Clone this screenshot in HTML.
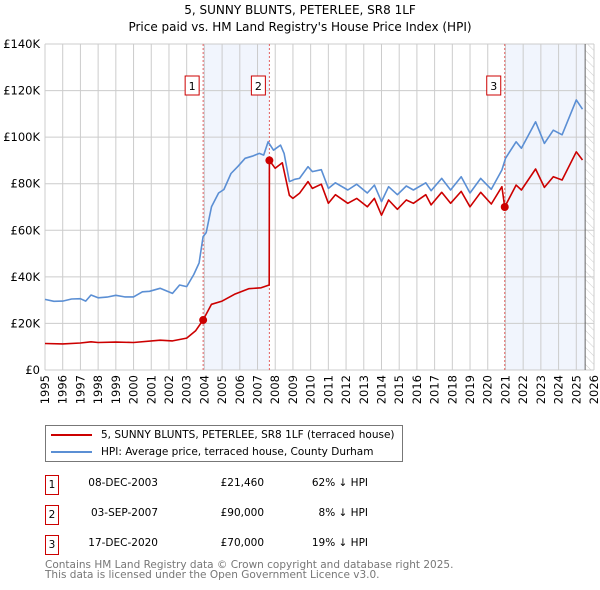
<!DOCTYPE html>
<html><head><meta charset="utf-8"><style>
body{margin:0;background:#fff;font-family:"DejaVu Sans","Liberation Sans",sans-serif;}
#wrap{position:relative;width:600px;height:590px;overflow:hidden;}
</style></head><body><div id="wrap">
<svg id="chart" width="600" height="590" xmlns="http://www.w3.org/2000/svg" style="position:absolute;left:0;top:0;font-family:'DejaVu Sans','Liberation Sans',sans-serif">
<defs><pattern id="hatch" width="6" height="6" patternUnits="userSpaceOnUse" patternTransform="rotate(-45)"><line x1="0" y1="0" x2="0" y2="6" stroke="#ccc" stroke-width="1"/></pattern></defs>
<text x="300" y="14" text-anchor="middle" font-size="12" fill="#000">5, SUNNY BLUNTS, PETERLEE, SR8 1LF</text>
<text x="300" y="31" text-anchor="middle" font-size="12" fill="#000">Price paid vs. HM Land Registry's House Price Index (HPI)</text>
<g id="g"></g>
</svg>
<div style="position:absolute;left:45px;top:425px;width:356px;height:35px;border:1px solid #777;font-size:10.5px;">
 <div style="position:absolute;left:5px;top:2px;white-space:nowrap;line-height:14px"><span style="display:inline-block;width:41px;height:2px;background:#cc0000;vertical-align:middle;margin-right:9px"></span>5, SUNNY BLUNTS, PETERLEE, SR8 1LF (terraced house)</div>
 <div style="position:absolute;left:5px;top:19px;white-space:nowrap;line-height:14px"><span style="display:inline-block;width:41px;height:2px;background:#5b8fd4;vertical-align:middle;margin-right:9px"></span>HPI: Average price, terraced house, County Durham</div>
</div>
<div id="tbl" style="font-size:10.5px"></div>
<div style="position:absolute;left:45px;top:560px;font-size:10.5px;color:#777;line-height:10px">Contains HM Land Registry data © Crown copyright and database right 2025.<br>This data is licensed under the Open Government Licence v3.0.</div>
</div>
<script>
const hpiYears=[1995,1995.5,1996,1996.5,1997,1997.3,1997.6,1998,1998.5,1999,1999.5,2000,2000.5,2000.9,2001.5,2002.2,2002.6,2003,2003.4,2003.7,2003.93,2004.1,2004.4,2004.8,2005.1,2005.5,2005.9,2006.3,2006.7,2007.1,2007.35,2007.6,2007.9,2008.3,2008.5,2008.8,2009.1,2009.37,2009.85,2010.1,2010.6,2011.0,2011.4,2012.1,2012.6,2013.2,2013.6,2014.0,2014.4,2014.9,2015.4,2015.8,2016.5,2016.8,2017.4,2017.9,2018.5,2019.0,2019.6,2020.2,2020.8,2021.0,2021.6,2021.9,2022.7,2023.2,2023.7,2024.2,2025.0,2025.35];
const hpiValues=[30.3,29.5,29.6,30.5,30.6,29.6,32.2,31.0,31.3,32.1,31.4,31.4,33.6,33.8,35.1,32.9,36.5,35.8,41,46,57.3,59,70.1,76,77.5,84.4,87.5,90.9,91.8,93,92.3,98,94.4,96.6,93,80.9,81.9,82.3,87.3,85.2,86,78,80.4,77.3,79.8,76,79.4,72.3,78.7,75.3,79,77.3,80.4,77,82.3,77.3,83,76,82.3,77.6,85.9,90.9,98,95.2,106.6,97.3,103,101,116,112];
const ppYears=[1995,1996,1997,1997.6,1998,1999,2000,2001.5,2002.2,2003,2003.5,2003.93,2004.4,2005,2005.7,2006.5,2007.2,2007.66,2007.67,2008,2008.4,2008.8,2009.0,2009.37,2009.85,2010.1,2010.6,2011.0,2011.4,2012.1,2012.6,2013.2,2013.6,2014.0,2014.4,2014.9,2015.4,2015.8,2016.5,2016.8,2017.4,2017.9,2018.5,2019.0,2019.6,2020.2,2020.8,2020.96,2021.6,2021.9,2022.7,2023.2,2023.7,2024.2,2025.0,2025.35];
const ppValues=[11.4,11.2,11.6,12.1,11.8,12,11.8,12.8,12.5,13.7,16.8,21.46,28.2,29.6,32.5,34.9,35.3,36.5,90,86.6,89,75,73.7,75.9,80.9,78,79.8,71.6,75.3,71.6,73.7,70.1,73.7,66.5,73,69,73,71.6,75.3,70.9,76.3,71.6,76.7,70.1,76.3,71.3,78.7,70,79.4,77.3,86.3,78.4,83,81.6,93.7,90.2];
const saleYears=[2003.93,2007.67,2020.96];
const saleValues=[21.46,90,70];
const saleLabels=["1","2","3"];
const saleDates=["08-DEC-2003","03-SEP-2007","17-DEC-2020"];
const salePrices=["£21,460","£90,000","£70,000"];
const saleHpi=["62% ↓ HPI","8% ↓ HPI","19% ↓ HPI"];
const yTicks=[0,20,40,60,80,100,120,140];
const yTickLabels=["£0","£20K","£40K","£60K","£80K","£100K","£120K","£140K"];
const xTicks=[1995,1996,1997,1998,1999,2000,2001,2002,2003,2004,2005,2006,2007,2008,2009,2010,2011,2012,2013,2014,2015,2016,2017,2018,2019,2020,2021,2022,2023,2024,2025,2026];
const dataEnd=2025.5;

const X0=45,X1=594,Y0=370,Y1=44;
const sx=y=>X0+(y-1995)/(2026-1995)*(X1-X0);
const sy=v=>Y0-v/140*(Y0-Y1);
const NS="http://www.w3.org/2000/svg";
const g=document.getElementById('g');
function mk(t,a,p){const e=document.createElementNS(NS,t);for(const k in a)e.setAttribute(k,a[k]);(p||g).appendChild(e);return e;}
let r=mk('rect',{x:sx(saleYears[0]),y:Y1,width:sx(saleYears[1])-sx(saleYears[0]),height:Y0-Y1,fill:'#eef3fc',opacity:0.8});

r=mk('rect',{x:sx(saleYears[2]),y:Y1,width:sx(dataEnd)-sx(saleYears[2]),height:Y0-Y1,fill:'#eef3fc',opacity:0.8});

r=mk('rect',{x:sx(dataEnd),y:Y1,width:X1-sx(dataEnd),height:Y0-Y1,fill:'url(#hatch)'});

yTicks.forEach((v,i)=>{
 const l=mk('line',{x1:X0,x2:X1,y1:sy(v),y2:sy(v),stroke:'#ccc','stroke-width':1});
 
 const t=mk('text',{x:X0-5,y:sy(v)+4,'text-anchor':'end','font-size':11.5,fill:'#000'});t.textContent=yTickLabels[i];
 
});
xTicks.forEach(y=>{
 const l=mk('line',{x1:sx(y),x2:sx(y),y1:Y1,y2:Y0,stroke:'#ccc','stroke-width':1});
 
 const t=mk('text',{x:0,y:0,'text-anchor':'end','font-size':11.5,fill:'#000',transform:`translate(${sx(y)+4},${Y0+5}) rotate(-90)`});t.textContent=y;
 
});
let dl=mk('line',{x1:sx(dataEnd),x2:sx(dataEnd),y1:Y1,y2:Y0,stroke:'#666','stroke-width':1});

saleYears.forEach((y,i)=>{
 const l=mk('line',{x1:sx(y),x2:sx(y),y1:Y1,y2:Y0,stroke:'#e06060','stroke-width':1,'stroke-dasharray':'2,2'});
 
 const b=mk('rect',{x:sx(y)-18,y:76,width:14,height:19,fill:'#fff',stroke:'#cc0000','stroke-width':1});
 
 const t=mk('text',{x:sx(y)-11,y:90,'text-anchor':'middle','font-size':11,fill:'#000'});t.textContent=saleLabels[i];
 
});
function path(xs,vs,c,name){const d=xs.map((x,i)=>(i?'L':'M')+sx(x).toFixed(1)+','+sy(vs[i]).toFixed(1)).join('');
 const p=mk('path',{d:d,fill:'none',stroke:c,'stroke-width':1.6,'stroke-linejoin':'round'});
 }
path(hpiYears,hpiValues,'#5b8fd4','hpi-line');
path(ppYears,ppValues,'#cc0000','price-paid-line');
saleYears.forEach((y,i)=>{const c=mk('circle',{cx:sx(y),cy:sy(saleValues[i]),r:4,fill:'#cc0000'});
 });
const tbl=document.getElementById('tbl');
saleLabels.forEach((s,i)=>{
 const top=475+i*30;
 const row=document.createElement('div');
 
 
 row.style.cssText=`position:absolute;left:0;top:${top}px;width:600px;height:20px`;
 row.innerHTML=`<div style="position:absolute;left:45px;top:0;width:12px;height:18px;border:1px solid #cc0000;text-align:center;line-height:18px">${s}</div>
 <div style="position:absolute;right:442px;top:2px">${saleDates[i]}</div>
 <div style="position:absolute;right:336px;top:2px">${salePrices[i]}</div>
 <div style="position:absolute;right:232px;top:2px">${saleHpi[i]}</div>`;
 tbl.appendChild(row);
});
</script>
</body></html>
